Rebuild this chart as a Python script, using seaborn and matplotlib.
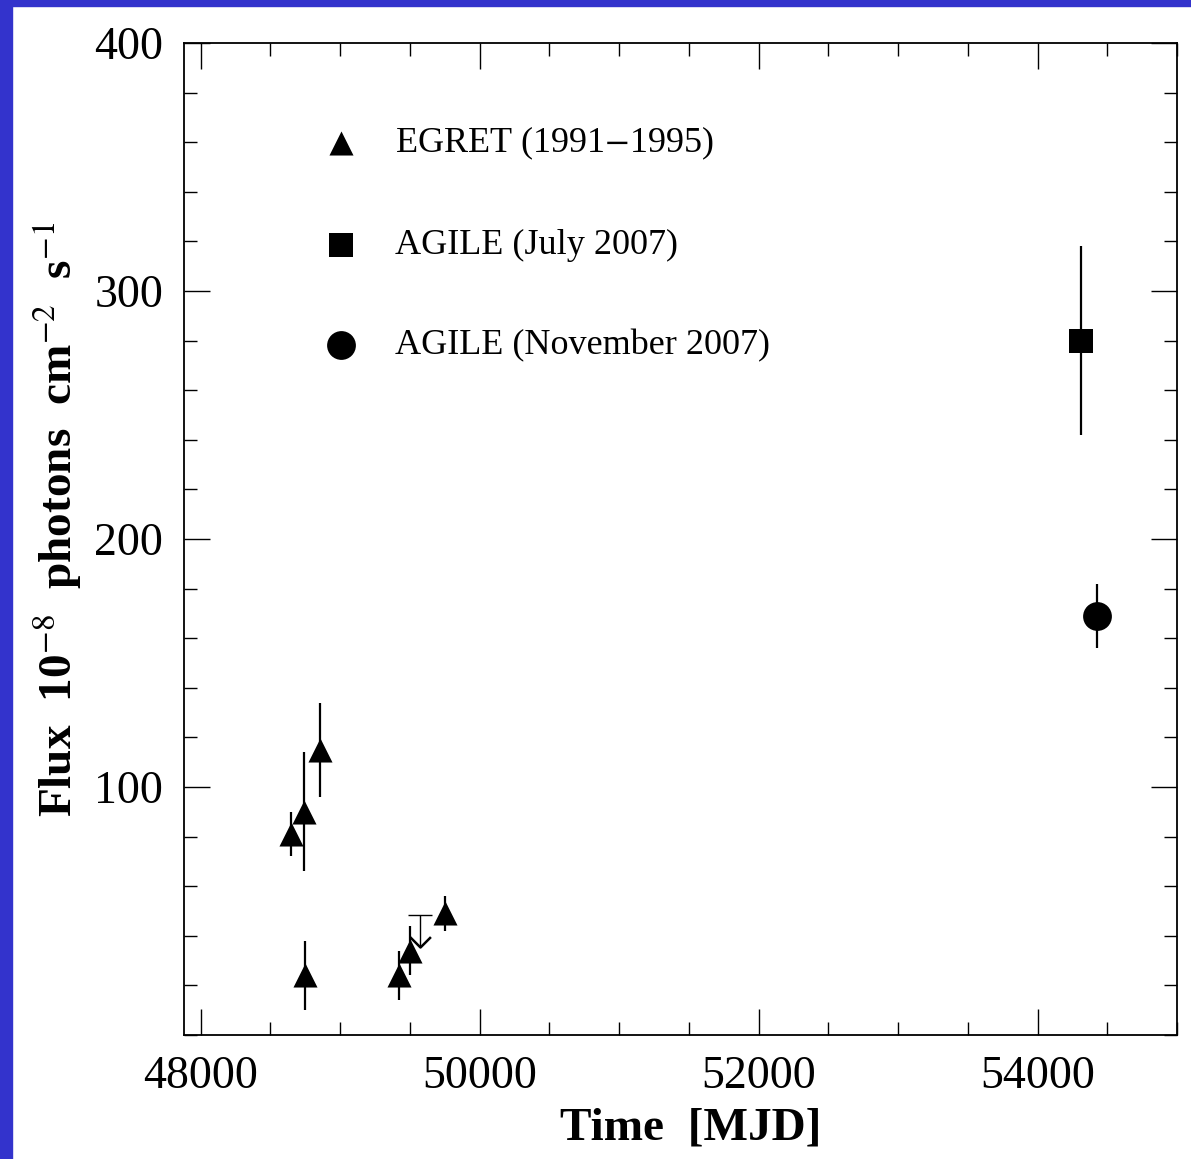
import matplotlib
matplotlib.use("Agg")
import matplotlib.pyplot as plt
import numpy as np
import pandas as pd
import seaborn as sns
from matplotlib.patches import Rectangle
from matplotlib.ticker import MultipleLocator

# EGRET detections (1991-1995)
egret_mjd = [48648, 48739, 48857, 48751, 49420, 49497, 49753]
egret_flux = [81, 90, 115, 24, 24, 34, 49]
egret_err = [9, 24, 19, 14, 10, 10, 7]

# EGRET upper limit
ul_mjd = [49569]
ul_flux = [48.4]
ul_len = [13]

# AGILE
agile_jul_mjd = [54308]
agile_jul_flux = [280]
agile_jul_err = [38]

agile_nov_mjd = [54423]
agile_nov_flux = [169]
agile_nov_err = [13]

labels = ["EGRET (1991$-$1995)", "AGILE (July 2007)", "AGILE (November 2007)"]

sns.set_theme(style="ticks")
plt.rcParams["font.family"] = ["Liberation Serif", "DejaVu Serif"]
plt.rcParams["mathtext.fontset"] = "stix"
plt.rcParams["text.color"] = "black"
plt.rcParams["axes.labelcolor"] = "black"

df = pd.DataFrame({
    "mjd": egret_mjd + agile_jul_mjd + agile_nov_mjd,
    "flux": egret_flux + agile_jul_flux + agile_nov_flux,
    "err": egret_err + agile_jul_err + agile_nov_err,
    "set": [labels[0]] * len(egret_mjd) + [labels[1]] * len(agile_jul_mjd) + [labels[2]] * len(agile_nov_mjd),
})

fig = plt.figure(figsize=(11.91, 11.59), dpi=100)
ax = fig.add_axes([0.1545, 0.1070, 0.8338, 0.8559])

# error bars first
ax.errorbar(df.mjd, df.flux, yerr=df.err, fmt="none", ecolor="black", elinewidth=1.6, capsize=0, zorder=2)

# upper limit: cap + line down + open caret
ax.errorbar(ul_mjd, ul_flux, yerr=[ul_len, [0] * len(ul_len)], fmt="none", ecolor="black",
            elinewidth=1.0, capsize=0, zorder=2)
ax.plot(ul_mjd, ul_flux, marker="_", ms=17, mew=1.0, color="black", linestyle="none", zorder=2)
ul_tip = np.array(ul_flux) - np.array(ul_len)
ax.plot(ul_mjd, ul_tip, marker=[(-1, 1), (0, 0), (1, 1)], ms=15, mew=1.8,
        mfc="none", color="black", linestyle="none", zorder=2)

sizes = {labels[0]: 300, labels[1]: 300, labels[2]: 430}
for lab, mk in zip(labels, ["^", "s", "o"]):
    sub = df[df["set"] == lab]
    sns.scatterplot(data=sub, x="mjd", y="flux", marker=mk, s=sizes[lab], color="black",
                    edgecolor="black", linewidth=0, ax=ax, label=lab, zorder=3)

ax.set_xlim(47880, 55000)
ax.set_ylim(0, 400)
ax.xaxis.set_major_locator(MultipleLocator(2000))
ax.xaxis.set_minor_locator(MultipleLocator(500))
ax.yaxis.set_major_locator(MultipleLocator(100))
ax.yaxis.set_minor_locator(MultipleLocator(20))
ax.set_yticks([100, 200, 300, 400])

ax.tick_params(which="both", direction="in", top=True, right=True, width=1.0, colors="black")
ax.tick_params(which="major", length=19, labelsize=33, pad=15)
ax.tick_params(which="minor", length=9.5)
for sp in ax.spines.values():
    sp.set_linewidth(1.3)
    sp.set_color("black")

ax.set_xlabel("Time  [MJD]", fontsize=34, fontweight="bold")
ax.set_ylabel("Flux  10$^{-8}$  photons  cm$^{-2}$  s$^{-1}$", fontsize=34, fontweight="bold")
ax.xaxis.set_label_coords(0.51, -0.073)
ax.yaxis.set_label_coords(-0.101, 0.52)

leg = ax.legend(loc="upper left", bbox_to_anchor=(0.142, 0.918), frameon=False, fontsize=26,
                handlelength=0.9, handletextpad=1.05, labelspacing=1.86, borderpad=0, borderaxespad=0)
for t in leg.get_texts():
    t.set_color("black")

# blue frame strips
fig.patches.append(Rectangle((0, 0), 12 / 1191, 1, transform=fig.transFigure, color="#3333cc", zorder=10))
fig.patches.append(Rectangle((0, 1 - 6 / 1159), 1, 6 / 1159, transform=fig.transFigure, color="#3333cc", zorder=10))

fig.savefig("out.png", dpi=100, facecolor="white")
